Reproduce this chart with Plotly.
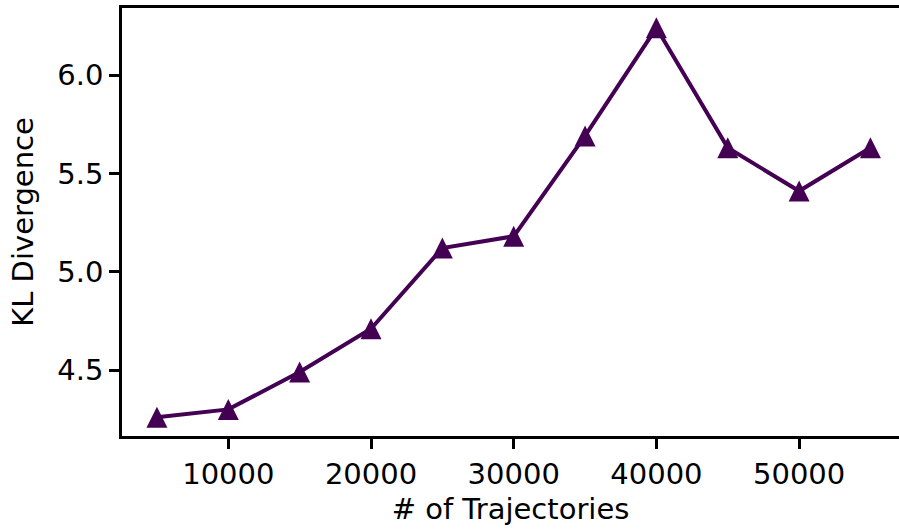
import plotly.graph_objects as go

# Number of trajectories vs. KL divergence
trajectories = [5000, 10000, 15000, 20000, 25000, 30000, 35000, 40000, 45000, 50000, 55000]
kl_divergence = [4.26, 4.30, 4.49, 4.71, 5.12, 5.18, 5.69, 6.24, 5.63, 5.41, 5.63]

x_ticks = [10000, 20000, 30000, 40000, 50000]
y_ticks = [4.5, 5.0, 5.5, 6.0]

COLOR = "#440154"
FONT = dict(family="DejaVu Sans", size=29, color="black")

fig = go.Figure()
fig.add_trace(go.Scatter(
    x=trajectories, y=kl_divergence, mode="lines",
    line=dict(color=COLOR, width=4), showlegend=False,
))

# Triangle markers (equal width and height, centred on the point)
half = 10.5
tri = f"M{-half},{-half} L{half},{-half} L0,{half} Z"
for xv, yv in zip(trajectories, kl_divergence):
    fig.add_shape(
        type="path", path=tri, xref="x", yref="y",
        xsizemode="pixel", ysizemode="pixel", xanchor=xv, yanchor=yv,
        fillcolor=COLOR, line=dict(width=0), layer="above",
    )

fig.update_layout(
    width=899, height=529,
    margin=dict(l=122, r=0, t=8, b=93),
    paper_bgcolor="white", plot_bgcolor="white",
    font=FONT,
)
fig.update_xaxes(
    range=[2551, 57001], tickvals=x_ticks, ticktext=[str(v) for v in x_ticks],
    showgrid=False, zeroline=False, showline=True, linecolor="black", linewidth=2.5,
    mirror=True, ticks="outside", ticklen=10, tickwidth=2.5, tickcolor="black",
    tickfont=FONT, title=dict(text="# of Trajectories", font=FONT, standoff=10),
)
fig.update_yaxes(
    range=[4.1647, 6.3406], tickvals=y_ticks, ticktext=[f"{v:.1f}" for v in y_ticks],
    showgrid=False, zeroline=False, showline=True, linecolor="black", linewidth=2.5,
    mirror=False, ticks="outside", ticklen=10, tickwidth=2.5, tickcolor="black",
    tickfont=FONT, title=dict(text="KL Divergence", font=FONT, standoff=16),
)

fig.write_html("out.html")
